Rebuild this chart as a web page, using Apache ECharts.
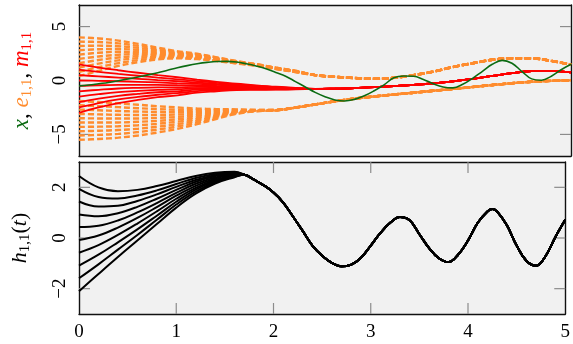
<!DOCTYPE html>
<html><head><meta charset="utf-8">
<script src="https://cdn.jsdelivr.net/npm/echarts@6/dist/echarts.min.js"></script>
<style>html,body{margin:0;padding:0;background:#fff}#c{width:573px;height:344px}</style>
</head><body><div id="c"></div>
<script>
// ---- time grids ----
const tX = [0,0.1,0.2,0.3,0.4,0.5,0.6,0.7,0.8,0.9,1.0,1.1,1.2,1.3,1.4,1.5,1.6,1.7,1.8,1.9,2.0,2.1,2.2,2.3,2.4,2.5,2.6,2.7,2.8,2.9,3.0,3.1,3.2,3.3,3.4,3.5,3.6,3.7,3.8,3.9,4.0,4.1,4.2,4.3,4.4,4.5,4.6,4.7,4.8,4.9,5.0];
const tFanHead = [0,0.2,0.4,0.6,0.8,1.0,1.2,1.4,1.6,1.8,2.0,2.2];
const tFanTail = [2.4,2.6,2.8,3.0,3.2,3.4,3.6,3.8,4.0,4.2,4.4,4.6,4.8,5.0];
const tHHead = [0,0.2,0.4,0.6,0.8,1.0,1.2,1.4,1.6];
const tHTail = [1.7,1.8,1.9,2.0,2.1,2.2,2.3,2.4,2.5,2.6,2.7,2.8,2.9,3.0,3.1,3.2,3.3,3.4,3.5,3.6,3.7,3.8,3.9,4.0,4.1,4.2,4.25,4.3,4.4,4.5,4.6,4.7,4.8,4.9,5.0];

// ---- x(t) ----
const xVals = [-0.5,-0.42,-0.3,-0.18,-0.02,0.15,0.33,0.52,0.72,0.95,1.18,1.38,1.55,1.68,1.76,1.77,1.71,1.55,1.35,1.1,0.75,0.4,-0.1,-0.6,-1.1,-1.5,-1.8,-1.9,-1.75,-1.42,-0.95,-0.4,0.25,0.42,0.4,0.1,-0.3,-0.6,-0.68,-0.35,0.2,0.85,1.5,1.87,1.6,0.85,0.15,0.02,0.4,1.0,1.5];

// ---- m_{1,1}: individual starts, then common tail ----
const mHeads = [
 [1.5,1.2,0.95,0.72,0.5,0.3,0.08,-0.12,-0.3,-0.45,-0.58,-0.68],
 [1.0,0.79,0.61,0.44,0.27,0.11,-0.05,-0.22,-0.37,-0.50,-0.61,-0.70],
 [0.5,0.38,0.27,0.16,0.04,-0.07,-0.19,-0.32,-0.43,-0.54,-0.64,-0.71],
 [0.0,-0.03,-0.07,-0.12,-0.18,-0.26,-0.32,-0.41,-0.50,-0.59,-0.67,-0.73],
 [-0.5,-0.44,-0.41,-0.40,-0.41,-0.44,-0.45,-0.51,-0.57,-0.64,-0.70,-0.74],
 [-1.0,-0.86,-0.74,-0.68,-0.64,-0.63,-0.59,-0.61,-0.63,-0.68,-0.73,-0.76],
 [-1.5,-1.27,-1.08,-0.96,-0.87,-0.81,-0.72,-0.71,-0.70,-0.73,-0.76,-0.77],
 [-2.0,-1.68,-1.42,-1.24,-1.09,-1.00,-0.85,-0.80,-0.77,-0.78,-0.79,-0.79],
 [-2.5,-2.09,-1.76,-1.52,-1.32,-1.18,-0.99,-0.90,-0.83,-0.82,-0.82,-0.80],
 [-3.0,-2.5,-2.1,-1.8,-1.55,-1.37,-1.12,-1.0,-0.9,-0.87,-0.85,-0.82]
];
const mTail = [-0.78,-0.75,-0.7,-0.62,-0.52,-0.4,-0.26,-0.08,0.15,0.42,0.68,0.88,0.9,0.75];

// ---- e_{1,1}: upper and lower bands ----
const eUpHeads = [
 [4.0,3.9,3.7,3.4,3.05,2.72,2.48,2.15,1.8,1.52,1.2,0.9],
 [3.6,3.57,3.44,3.21,2.93,2.65,2.42,2.11,1.78,1.50,1.18,0.89],
 [3.2,3.23,3.18,3.02,2.81,2.57,2.37,2.07,1.75,1.48,1.17,0.87],
 [2.8,2.9,2.92,2.83,2.68,2.50,2.31,2.03,1.73,1.47,1.15,0.86],
 [2.4,2.57,2.66,2.64,2.56,2.42,2.26,1.99,1.70,1.45,1.14,0.85],
 [2.0,2.23,2.39,2.46,2.44,2.35,2.20,1.96,1.68,1.43,1.12,0.83],
 [1.6,1.9,2.13,2.27,2.32,2.27,2.15,1.92,1.65,1.41,1.11,0.82],
 [1.2,1.57,1.87,2.08,2.19,2.20,2.09,1.88,1.63,1.40,1.09,0.81],
 [0.8,1.23,1.61,1.89,2.07,2.12,2.04,1.84,1.60,1.38,1.08,0.79],
 [0.4,0.9,1.35,1.7,1.95,2.05,1.98,1.8,1.58,1.36,1.06,0.78]
];
const eUpTail = [0.5,0.34,0.23,0.16,0.25,0.5,0.82,1.25,1.6,1.92,2.06,2.05,1.82,1.46];
const eLoHeads = [
 [-1.9,-2.0,-2.12,-2.25,-2.38,-2.5,-2.6,-2.65,-2.68,-2.72,-2.72,-2.5],
 [-2.3,-2.38,-2.47,-2.57,-2.65,-2.72,-2.76,-2.75,-2.73,-2.73,-2.73,-2.50],
 [-2.7,-2.76,-2.83,-2.88,-2.92,-2.94,-2.92,-2.85,-2.77,-2.75,-2.73,-2.50],
 [-3.1,-3.14,-3.18,-3.20,-3.19,-3.16,-3.08,-2.95,-2.82,-2.76,-2.74,-2.51],
 [-3.5,-3.52,-3.53,-3.52,-3.46,-3.38,-3.24,-3.05,-2.87,-2.78,-2.75,-2.51],
 [-3.9,-3.9,-3.89,-3.83,-3.74,-3.6,-3.41,-3.15,-2.91,-2.79,-2.75,-2.51],
 [-4.3,-4.28,-4.24,-4.15,-4.01,-3.82,-3.57,-3.25,-2.96,-2.81,-2.76,-2.51],
 [-4.7,-4.66,-4.59,-4.47,-4.28,-4.04,-3.73,-3.35,-3.01,-2.82,-2.77,-2.52],
 [-5.1,-5.04,-4.95,-4.78,-4.55,-4.26,-3.89,-3.45,-3.05,-2.84,-2.77,-2.52],
 [-5.5,-5.42,-5.3,-5.1,-4.82,-4.48,-4.05,-3.55,-3.1,-2.85,-2.78,-2.52]
];
const eLoTail = [-2.22,-1.93,-1.68,-1.48,-1.3,-1.13,-0.95,-0.78,-0.6,-0.42,-0.25,-0.12,-0.03,0.02];

// ---- h_{1,1}(t) ----
const hHeads = [
 [2.45,2.0,1.85,1.9,2.05,2.25,2.45,2.58,2.62],
 [1.94,1.62,1.56,1.68,1.88,2.13,2.37,2.53,2.60],
 [1.44,1.24,1.27,1.46,1.72,2.02,2.29,2.48,2.57],
 [0.93,0.86,0.98,1.23,1.55,1.90,2.22,2.44,2.55],
 [0.43,0.48,0.69,1.01,1.38,1.78,2.14,2.39,2.52],
 [-0.08,0.10,0.41,0.79,1.22,1.67,2.06,2.34,2.50],
 [-0.58,-0.28,0.12,0.57,1.05,1.55,1.98,2.29,2.47],
 [-1.09,-0.66,-0.17,0.34,0.88,1.43,1.91,2.25,2.45],
 [-1.59,-1.04,-0.46,0.12,0.72,1.32,1.83,2.20,2.42],
 [-2.1,-1.42,-0.75,-0.1,0.55,1.2,1.75,2.15,2.4]
];
const hTail = [2.5,2.3,2.08,1.8,1.4,0.85,0.28,-0.3,-0.7,-0.98,-1.12,-1.05,-0.78,-0.3,0.2,0.6,0.83,0.7,0.15,-0.4,-0.8,-0.95,-0.65,-0.1,0.6,1.05,1.14,1.04,0.5,-0.3,-0.9,-1.1,-0.7,0.05,0.72];

// tick labels / tick positions
const xTicks = [0,1,2,3,4,5];
const xInnerTicks = [1,2,3,4];
const yTopTicks = [-5,0,5];
const yBotTicks = [-2,0,2];

const GREEN = '#0b6b12', ORANGE = '#ff8c2e', RED = '#ff0000';
const FONT = 'Liberation Serif';
const TICKC = '#8c8c8c';
const BG = '#f1f1f1';
const TICKLEN = 11;
const TOP_Y = [-7, 7], BOT_Y = [-3, 3], X_RANGE = [0, 5];

function pairs(ts, vs){ return ts.map((t,i)=>[t, vs[i]]); }
const series = [];

// inside tick marks, placed through the axes' own scales
function tickLine(p, dx, dy){
  return {type:'line', shape:{x1:p[0], y1:p[1], x2:p[0]+dx, y2:p[1]+dy}, style:{stroke:TICKC, lineWidth:1.2}};
}
function xTickSeries(xi, yi, yr){
  return {type:'custom', xAxisIndex:xi, yAxisIndex:yi, silent:true, z:1, clip:false,
    data: xInnerTicks.map(v => [v, yr[0]]),
    renderItem: (params, api) => {
      const v = api.value(0);
      const pb = api.coord([v, yr[0]]), pt = api.coord([v, yr[1]]);
      return {type:'group', children:[tickLine(pb, 0, -TICKLEN), tickLine(pt, 0, TICKLEN)]};
    }};
}
function yTickSeries(xi, yi, vals){
  return {type:'custom', xAxisIndex:xi, yAxisIndex:yi, silent:true, z:1, clip:false,
    data: vals.map(v => [X_RANGE[0], v]),
    renderItem: (params, api) => {
      const v = api.value(1);
      const pl = api.coord([X_RANGE[0], v]), pr = api.coord([X_RANGE[1], v]);
      return {type:'group', children:[tickLine(pl, TICKLEN, 0), tickLine(pr, -TICKLEN, 0)]};
    }};
}
series.push(yTickSeries(0, 0, yTopTicks));
series.push(yTickSeries(2, 2, yBotTicks));
series.push(xTickSeries(2, 2, BOT_Y));

eUpHeads.concat(eLoHeads).forEach((h, i) => {
  const tail = i < 10 ? eUpTail : eLoTail;
  series.push({type:'line', xAxisIndex:0, yAxisIndex:0, showSymbol:false, smooth:0.4, silent:true,
    data: pairs(tFanHead.concat(tFanTail), h.concat(tail)),
    lineStyle:{color:ORANGE, width:2.4, type:[6,3]}});
});
mHeads.forEach(h => series.push({type:'line', xAxisIndex:0, yAxisIndex:0, showSymbol:false, smooth:0.4, silent:true,
  data: pairs(tFanHead.concat(tFanTail), h.concat(mTail)), lineStyle:{color:RED, width:1.8}}));
series.push({type:'line', xAxisIndex:0, yAxisIndex:0, showSymbol:false, smooth:0.4, silent:true,
  data: pairs(tX, xVals), lineStyle:{color:GREEN, width:1.6}});
hHeads.forEach(h => series.push({type:'line', xAxisIndex:2, yAxisIndex:2, showSymbol:false, smooth:0.4, silent:true,
  data: pairs(tHHead.concat(tHTail), h.concat(hTail)), lineStyle:{color:'#000', width:2}}));

const frame = {show:true, onZero:false, lineStyle:{color:'#111', width:1.4}};
const noTk = {show:false};
const area = {show:true, areaStyle:{color:[BG]}};

const chart = echarts.init(document.getElementById('c'), null, {renderer:'canvas'});
chart.setOption({
  animation:false,
  backgroundColor:'#fff',
  grid: [
    {left:79, right:2, top:5, height:151},
    {left:79, right:2, top:162, height:152}
  ],
  xAxis:[
    {type:'value', gridIndex:0, min:X_RANGE[0], max:X_RANGE[1], interval:1, position:'bottom', axisLine:frame, axisTick:noTk,
      axisLabel:{show:false}, splitLine:{show:false}, splitArea:area},
    {type:'value', gridIndex:0, min:X_RANGE[0], max:X_RANGE[1], interval:1, position:'top', axisLine:frame, axisTick:noTk,
      axisLabel:{show:false}, splitLine:{show:false}},
    {type:'value', gridIndex:1, min:X_RANGE[0], max:X_RANGE[1], interval:1, position:'bottom', axisLine:frame, axisTick:noTk,
      splitLine:{show:false}, splitArea:area,
      axisLabel:{customValues:xTicks, color:'#000', fontFamily:FONT, fontSize:19, margin:9}},
    {type:'value', gridIndex:1, min:X_RANGE[0], max:X_RANGE[1], interval:1, position:'top', axisLine:frame, axisTick:noTk,
      axisLabel:{show:false}, splitLine:{show:false}}
  ],
  yAxis:[
    {type:'value', gridIndex:0, min:TOP_Y[0], max:TOP_Y[1], position:'left', axisLine:frame, splitLine:{show:false}, axisTick:noTk,
      axisLabel:{customValues:yTopTicks, rotate:90, color:'#000', fontFamily:FONT, fontSize:19, margin:9,
        formatter: v => v < 0 ? '\u2212' + Math.abs(v) : String(v)},
      name:'{g|x}{k|, }{o|e}{os|1,1}{k|, }{r|m}{rs|1,1}', nameLocation:'middle', nameRotate:90, nameGap:44,
      nameTextStyle:{rich:{
        g:{color:GREEN, fontFamily:FONT, fontStyle:'italic', fontSize:23, lineHeight:26},
        k:{color:'#000', fontFamily:FONT, fontSize:23, lineHeight:26},
        o:{color:ORANGE, fontFamily:FONT, fontStyle:'italic', fontSize:23, lineHeight:26},
        os:{color:ORANGE, fontFamily:FONT, fontSize:15, lineHeight:15, verticalAlign:'bottom'},
        r:{color:RED, fontFamily:FONT, fontStyle:'italic', fontSize:23, lineHeight:26},
        rs:{color:RED, fontFamily:FONT, fontSize:15, lineHeight:15, verticalAlign:'bottom'}
      }}},
    {type:'value', gridIndex:0, min:TOP_Y[0], max:TOP_Y[1], position:'right', axisLine:frame, splitLine:{show:false}, axisTick:noTk,
      axisLabel:{show:false}},
    {type:'value', gridIndex:1, min:BOT_Y[0], max:BOT_Y[1], position:'left', axisLine:frame, splitLine:{show:false}, axisTick:noTk,
      axisLabel:{customValues:yBotTicks, rotate:90, color:'#000', fontFamily:FONT, fontSize:19, margin:9,
        formatter: v => v < 0 ? '\u2212' + Math.abs(v) : String(v)},
      name:'{i|h}{s|1,1}{n|(}{i|t}{n|)}', nameLocation:'middle', nameRotate:90, nameGap:46,
      nameTextStyle:{rich:{
        i:{color:'#000', fontFamily:FONT, fontStyle:'italic', fontSize:22, lineHeight:25},
        n:{color:'#000', fontFamily:FONT, fontSize:22, lineHeight:25},
        s:{color:'#000', fontFamily:FONT, fontSize:15, lineHeight:15, verticalAlign:'bottom'}
      }}},
    {type:'value', gridIndex:1, min:BOT_Y[0], max:BOT_Y[1], position:'right', axisLine:frame, splitLine:{show:false}, axisTick:noTk,
      axisLabel:{show:false}}
  ],
  series: series
});
</script></body></html>
